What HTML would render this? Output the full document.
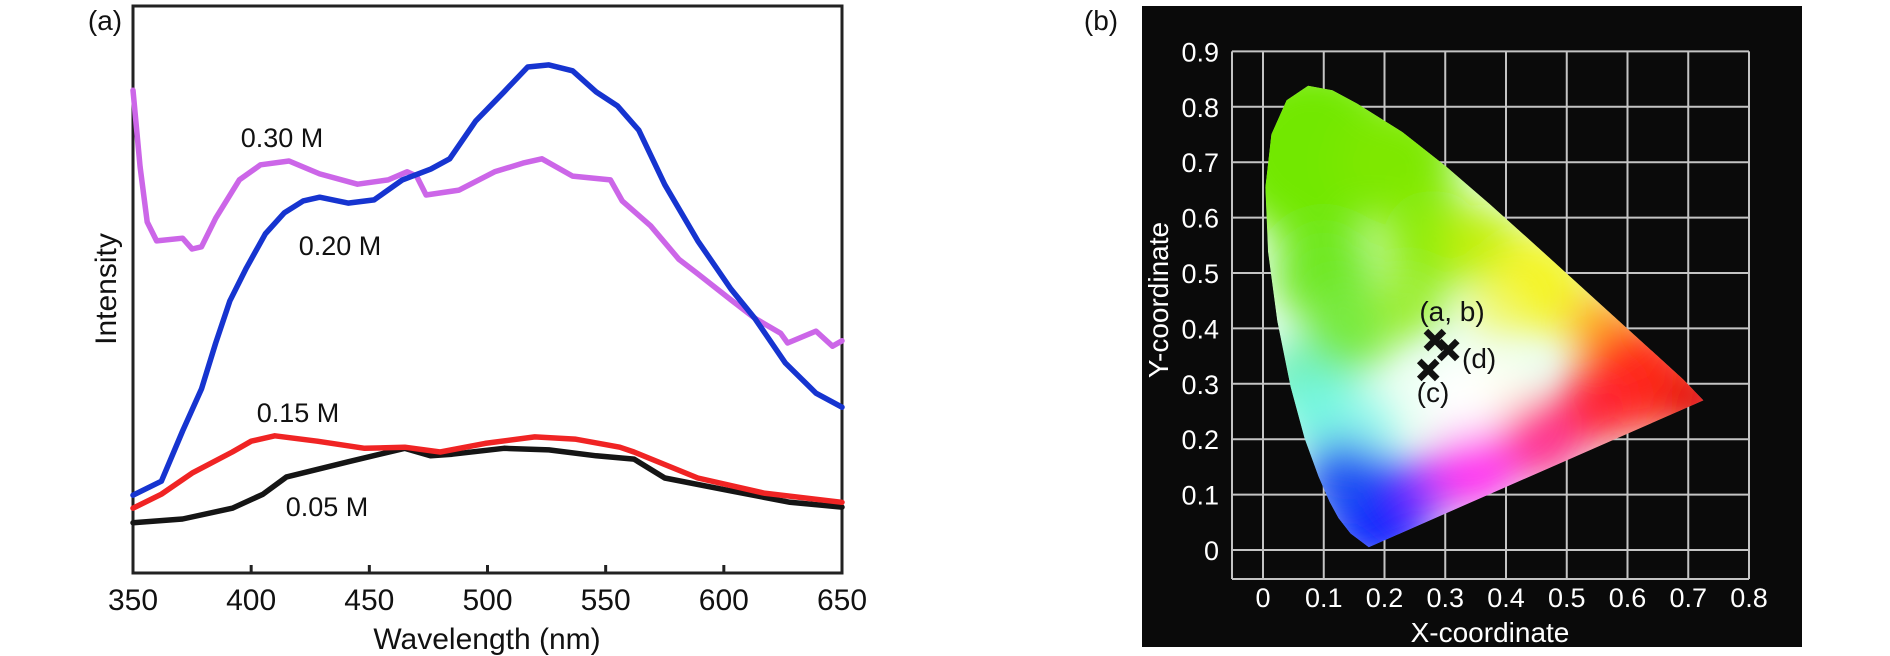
<!DOCTYPE html>
<html><head><meta charset="utf-8"><style>
html,body{margin:0;padding:0;background:#fff;}
svg{display:block;font-family:"Liberation Sans",sans-serif;}
</style></head><body>
<svg id="fig" width="1890" height="656" viewBox="0 0 1890 656" xmlns="http://www.w3.org/2000/svg">
<defs>
<filter id="blur" x="-50%" y="-50%" width="200%" height="200%"><feGaussianBlur stdDeviation="20"/></filter>
<clipPath id="locusClip"><path id="locusClipPath" d=""/></clipPath>
</defs>
<g id="left"></g>
<g id="right"></g>
</svg>
<script>
// ---- Panel (a) data ----
const xTicks = [350,400,450,500,550,600,650];
const blueWl = [350,362,371,379,385,391,398,406,414,422,429,441,452,464,476,484,495,507,517,526,536,546,555,564,575,589,603,613,626,639,650];
const blueVal = [14.4,17.0,26.3,34.1,42.6,50.4,56.5,62.8,66.7,68.9,69.6,68.5,69.1,72.8,74.8,76.7,83.7,89.1,93.7,94.1,93.0,89.1,86.5,82.0,71.9,61.5,52.6,47.2,38.9,33.3,30.7];
const pinkWl = [350,353,356,360,371,375,379,385,395,404,416,429,445,458,466,470,474,488,503,515,523,536,552,557,569,581,589,603,613,624,627,639,646,650];
const pinkVal = [89.4,75.2,65,61.5,62,60,60.4,65.7,72.8,75.6,76.3,73.9,72,72.8,74.3,73.5,70,70.9,74.3,75.9,76.7,73.5,72.8,68.9,64.3,58.1,55.4,50.6,47.2,44.4,42.6,44.8,42,43];
const redWl = [350,362,375,392,400,410,428,448,465,480,499,520,537,556,562,589,617,650];
const redVal = [12,14.6,18.5,22.4,24.4,25.4,24.4,23.1,23.3,22.4,24,25.2,24.8,23.3,22.4,17.6,14.8,13.1];
const blackWl = [350,371,392,405,415,441,465,476,485,507,526,546,562,575,603,628,650];
const blackVal = [9.3,10,12,14.6,17.8,20.6,23.1,21.7,22,23.1,22.8,21.7,21.1,17.6,15.2,13.1,12.2];
const seriesLabels = ["0.30 M","0.20 M","0.15 M","0.05 M"];

// ---- Panel (b) data ----
const cieXTicks = [0,0.1,0.2,0.3,0.4,0.5,0.6,0.7,0.8];
const cieYTicks = [0,0.1,0.2,0.3,0.4,0.5,0.6,0.7,0.8,0.9];
const locusX = [0.1741,0.1440,0.1241,0.1096,0.0913,0.0687,0.0454,0.0235,0.0082,0.0039,0.0139,0.0389,0.0743,0.1142,0.1547,0.2296,0.3016,0.3731,0.4441,0.5125,0.5752,0.6270,0.6915,0.7250];
const locusY = [0.0050,0.0297,0.0578,0.0868,0.1327,0.2007,0.2950,0.4127,0.5384,0.6548,0.7502,0.8120,0.8380,0.8300,0.8059,0.7543,0.6923,0.6245,0.5547,0.4866,0.4242,0.3725,0.3083,0.2700];
const pointX = [0.283,0.305,0.272];
const pointY = [0.379,0.361,0.325];
const pointLabels = ["(a, b)","(d)","(c)"];

const NS="http://www.w3.org/2000/svg";
function mk(tag, attrs, parent){const e=document.createElementNS(NS,tag);for(const k in attrs)e.setAttribute(k,attrs[k]);parent.appendChild(e);return e;}

// ===== Panel (a) =====
const L=document.getElementById('left');
const ax0=133, ax1=842, ay0=573, ay1=6;
const xA=w=>ax0+(w-350)/300*(ax1-ax0);
const yA=v=>ay0-v*5.4;
let fr=mk('rect',{x:ax0,y:ay1,width:ax1-ax0,height:ay0-ay1,fill:'none',stroke:'#222','stroke-width':3},L);


xTicks.forEach(t=>{
  const tk=mk('line',{x1:xA(t),x2:xA(t),y1:ay0,y2:ay0-8,stroke:'#222','stroke-width':3},L);
  
  
  const tl=mk('text',{x:xA(t),y:610,'font-size':30,'text-anchor':'middle',fill:'#111'},L);
  tl.textContent=t;
  
  
});
let xt=mk('text',{x:487,y:649,'font-size':30,'text-anchor':'middle',fill:'#111'},L);
xt.textContent='Wavelength (nm)';


let yt=mk('text',{x:0,y:0,'font-size':30,'text-anchor':'middle',fill:'#111',transform:'translate(116,289) rotate(-90)'},L);
yt.textContent='Intensity';


let pa=mk('text',{x:105,y:30,'font-size':28,'text-anchor':'middle',fill:'#111'},L);
pa.textContent='(a)';



function line(wl,vals,color,name){
  const d=wl.map((w,i)=>(i?'L':'M')+xA(w).toFixed(1)+' '+yA(vals[i]).toFixed(1)).join(' ');
  const p=mk('path',{d:d,fill:'none',stroke:color,'stroke-width':5.5,'stroke-linejoin':'round','stroke-linecap':'round'},L);
  
  
}
line(blackWl,blackVal,'#151515','series-0-05M');
line(redWl,redVal,'#f02424','series-0-15M');
line(pinkWl,pinkVal,'#cc66e8','series-0-30M');
line(blueWl,blueVal,'#1634d0','series-0-20M');
const labPos=[[282,147],[340,255],[298,422],[327,516]];
seriesLabels.forEach((s,i)=>{
  const t=mk('text',{x:labPos[i][0],y:labPos[i][1],'font-size':27,'text-anchor':'middle',fill:'#111'},L);
  t.textContent=s;
  
  
});

// ===== Panel (b) =====
const R=document.getElementById('right');
const cx=v=>1263+v*607.5;
const cy=v=>550-v*554;
let bg=mk('rect',{x:1142,y:6,width:660,height:641,fill:'#0a0a0a'},R);


const gl='#c4c4c4';
cieXTicks.forEach(t=>{
  const g=mk('line',{x1:cx(t),x2:cx(t),y1:cy(0.9),y2:579,stroke:gl,'stroke-width':2},R);
  
  
  const tl=mk('text',{x:cx(t),y:607,'font-size':27,'text-anchor':'middle',fill:'#fff'},R);
  tl.textContent=t;
  
  
});
cieYTicks.forEach(t=>{
  const g=mk('line',{x1:1232,x2:cx(0.8),y1:cy(t),y2:cy(t),stroke:gl,'stroke-width':2},R);
  
  
  const tl=mk('text',{x:1219,y:cy(t)+10,'font-size':27,'text-anchor':'end',fill:'#fff'},R);
  tl.textContent=t;
  
  
});
let lb=mk('line',{x1:1232,x2:1232,y1:cy(0.9),y2:579,stroke:gl,'stroke-width':2},R);


let bb=mk('line',{x1:1232,x2:cx(0.8),y1:579,y2:579,stroke:gl,'stroke-width':2},R);



const ld=locusX.map((x,i)=>(i?'L':'M')+cx(x).toFixed(1)+' '+cy(locusY[i]).toFixed(1)).join(' ')+' Z';
document.getElementById('locusClipPath').setAttribute('d',ld);
const hg=mk('g',{'clip-path':'url(#locusClip)'},R);


mk('path',{d:ld,fill:'#eafff2'},hg);
const bl=mk('g',{filter:'url(#blur)'},hg);
[[0.08,0.72,90,'#72e800'],[0.22,0.70,60,'#7ee800'],[0.28,0.56,50,'#8eec10'],[0.10,0.50,50,'#70e820'],
 [0.14,0.40,45,'#78ea40'],[0.24,0.44,35,'#9cee30'],
 [0.36,0.55,40,'#c0f010'],[0.45,0.48,50,'#f4f428'],[0.38,0.43,25,'#f0f870'],
 [0.56,0.40,35,'#ffa820'],[0.62,0.31,55,'#ff2a18'],[0.72,0.27,35,'#e01010'],
 [0.05,0.31,35,'#70f0b8'],[0.10,0.25,42,'#74f6e0'],[0.17,0.22,30,'#90f8ea'],
 [0.19,0.07,55,'#1020ff'],[0.13,0.13,38,'#1a50f2'],[0.27,0.11,30,'#8030ff'],[0.35,0.15,42,'#ff30f0'],
 [0.46,0.20,40,'#ff3090'],[0.55,0.26,38,'#ff2030'],
 [0.33,0.28,42,'#ffffff'],[0.40,0.30,25,'#fffff0']].forEach(b=>{
  mk('circle',{cx:cx(b[0]),cy:cy(b[1]),r:b[2],fill:b[3]},bl);
});
pointX.forEach((x,i)=>{
  const g=mk('g',{},R);
  
  
  const px=cx(x),py=cy(pointY[i]);
  mk('path',{d:`M${px-9} ${py-9}L${px+9} ${py+9}M${px+9} ${py-9}L${px-9} ${py+9}`,stroke:'#111','stroke-width':6.5},g);
});
const plPos=[[1452,321,'middle'],[1462,368,'start'],[1433,402,'middle']];
pointLabels.forEach((s,i)=>{
  const t=mk('text',{x:plPos[i][0],y:plPos[i][1],'font-size':28,'text-anchor':plPos[i][2],fill:'#111'},R);
  t.textContent=s;
  
  
});
let cxT=mk('text',{x:1490,y:642,'font-size':28,'text-anchor':'middle',fill:'#fff'},R);
cxT.textContent='X-coordinate';


let cyT=mk('text',{x:0,y:0,'font-size':28,'text-anchor':'middle',fill:'#fff',transform:'translate(1168,300) rotate(-90)'},R);
cyT.textContent='Y-coordinate';


let pb=mk('text',{x:1101,y:30,'font-size':28,'text-anchor':'middle',fill:'#111'},R);
pb.textContent='(b)';


</script>
</body></html>
